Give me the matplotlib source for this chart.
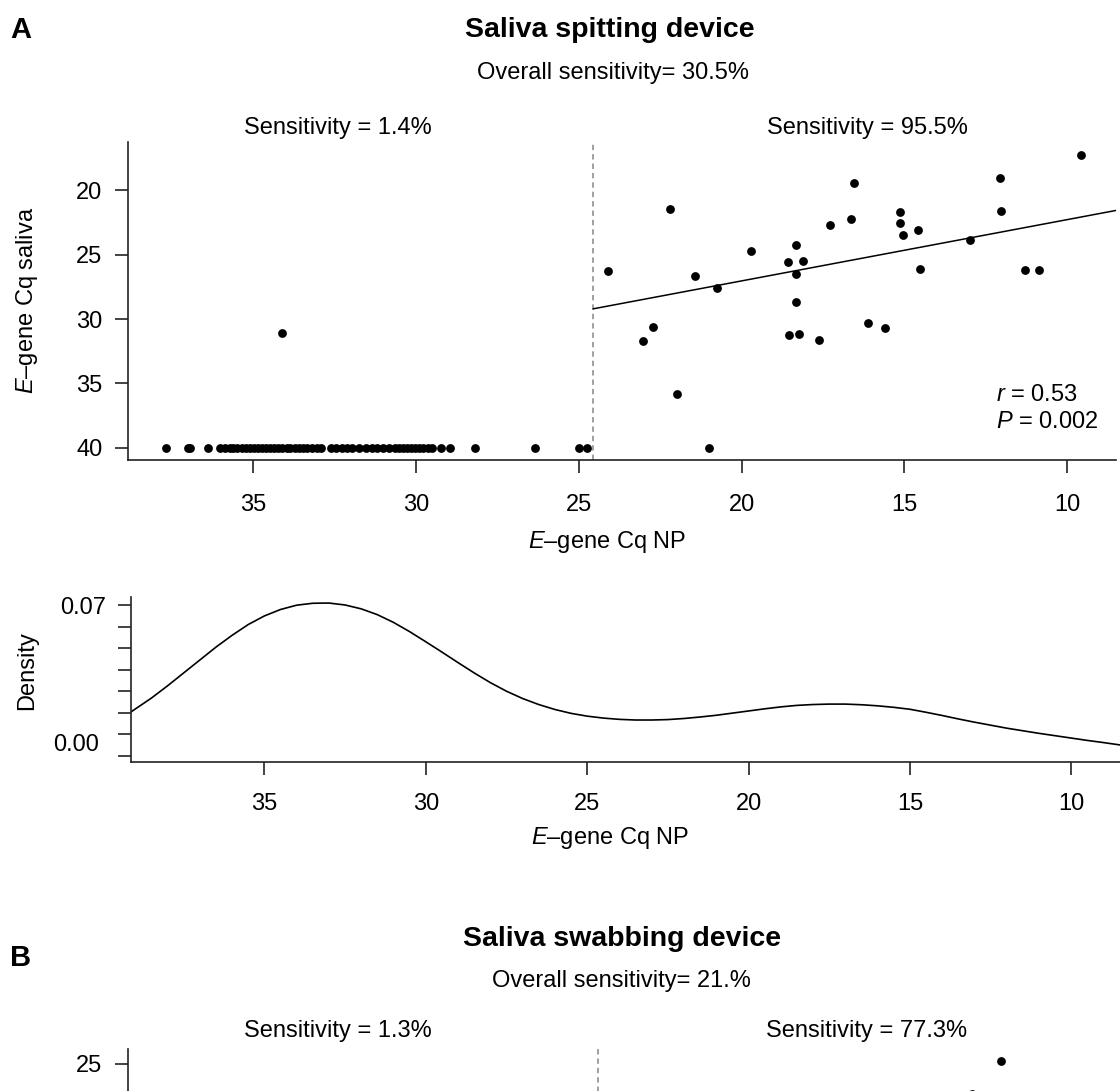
import matplotlib.pyplot as plt
from matplotlib import rcParams

rcParams.update({
    'font.family': ['Liberation Sans', 'DejaVu Sans'],
    'mathtext.fontset': 'custom',
    'mathtext.rm': 'Liberation Sans',
    'mathtext.it': 'Liberation Sans:italic',
})

# ---- data: panel A (saliva spitting device) ----
# NP Cq of samples not detected in saliva (plotted at Cq 40)
np_undetected = [37.68, 37.00, 36.93, 36.38,
                 36.00, 35.85, 35.72, 35.60, 35.48, 35.35, 35.22, 35.10, 34.98,
                 34.85, 34.72, 34.60, 34.47, 34.35,
                 34.22, 34.10, 33.97, 33.85, 33.72, 33.60, 33.47, 33.35, 33.20,
                 33.05, 32.92,
                 32.62, 32.45, 32.28, 32.10, 31.95, 31.76,
                 31.52, 31.35, 31.18, 31.00, 30.83,
                 30.65, 30.52, 30.40, 30.28, 30.15, 30.02, 29.90, 29.77, 29.64, 29.50,
                 29.22, 28.95, 28.18, 26.33, 25.00, 24.75, 21.01]
saliva_undetected = [40.0] * len(np_undetected)

# detected pairs (NP Cq, saliva Cq)
np_detected = [34.10, 24.10, 22.21, 21.43, 20.75, 19.70, 18.57, 18.34, 18.10,
               18.34, 18.34, 17.29, 16.63, 16.55, 15.14, 15.13, 15.03, 14.57,
               12.98, 14.53, 12.05, 12.03, 11.30, 10.85, 9.59, 22.73, 23.01,
               18.55, 18.23, 17.63, 16.13, 15.58, 21.99]
saliva_detected = [31.08, 26.27, 21.48, 26.68, 27.59, 24.71, 25.57, 24.27, 25.51,
                   26.47, 28.70, 22.72, 22.20, 19.43, 21.68, 22.51, 23.47, 23.08,
                   23.88, 26.13, 19.01, 21.58, 26.19, 26.23, 17.23, 30.61, 31.70,
                   31.26, 31.16, 31.65, 30.30, 30.66, 35.84]

cutoff = 24.55
fit_slope = 0.476
fit_intercept = 17.52

# density of NP Cq values
dens_x = [39.12, 38.5, 38.0, 37.5, 37.0, 36.5, 36.0, 35.5, 35.0, 34.5, 34.0,
          33.5, 33.0, 32.5, 32.0, 31.5, 31.0, 30.5, 30.0, 29.5, 29.0, 28.5,
          28.0, 27.5, 27.0, 26.5, 26.0, 25.5, 25.0, 24.5, 24.0, 23.5, 23.0,
          22.5, 22.0, 21.5, 21.0, 20.5, 20.0, 19.5, 19.0, 18.5, 18.0, 17.5,
          17.0, 16.5, 16.0, 15.5, 15.0, 14.5, 14.0, 13.5, 13.0, 12.5, 12.0,
          11.5, 11.0, 10.5, 10.0, 9.5, 9.0, 8.49]
dens_y = [0.0205, 0.0268, 0.0325, 0.0385, 0.0445, 0.0505, 0.0560, 0.0610,
          0.0650, 0.0680, 0.0700, 0.0709, 0.0710, 0.0701, 0.0683, 0.0656,
          0.0620, 0.0577, 0.0530, 0.0482, 0.0433, 0.0385, 0.0340, 0.0300,
          0.0266, 0.0238, 0.0215, 0.0197, 0.0184, 0.0175, 0.0169, 0.0166,
          0.0166, 0.0168, 0.0173, 0.0180, 0.0188, 0.0198, 0.0208, 0.0218,
          0.0227, 0.0234, 0.0238, 0.0240, 0.0240, 0.0237, 0.0232, 0.0225,
          0.0216, 0.0202, 0.0187, 0.0171, 0.0156, 0.0142, 0.0128, 0.0116,
          0.0104, 0.0093, 0.0082, 0.0071, 0.0061, 0.0050]

# ---- data: panel B (saliva swabbing device), only top edge visible ----
np_b = [12.03, 12.91]
saliva_b = [24.74, 27.3]
cutoff_b = 24.42

W, H = 1120, 1091
FS = 17


def rect(l, t, r, b):
    return [l / W, 1 - b / H, (r - l) / W, (b - t) / H]


def ftext(x, y, s, **kw):
    fig.text(x / W, 1 - y / H, s, ha=kw.pop('ha', 'center'),
             va=kw.pop('va', 'center'), fontsize=kw.pop('fontsize', FS), **kw)


def style(ax, pad=9):
    for side in ('top', 'right'):
        ax.spines[side].set_visible(False)
    for side in ('left', 'bottom'):
        ax.spines[side].set_linewidth(1.2)
        ax.spines[side].set_color('#222222')
    ax.tick_params(direction='out', length=9.5, width=1.2, color='#222222',
                   labelsize=FS, pad=9)
    ax.tick_params(axis='x', pad=pad)


fig = plt.figure(figsize=(W / 100, H / 100), dpi=100)

# ---- scatter A ----
axA = fig.add_axes(rect(128.3, 142, 1116, 460))
axA.scatter(np_undetected, saliva_undetected, s=40, c='black', lw=0, zorder=3,
            clip_on=False)
axA.scatter(np_detected, saliva_detected, s=40, c='black', lw=0, zorder=3,
            clip_on=False)
axA.axvline(cutoff, color='#999999', lw=1.3, ls=(0, (3, 2.2)))
xs = [cutoff, 8.5]
axA.plot(xs, [fit_intercept + fit_slope * v for v in xs], color='black', lw=1.1)
axA.set_xlim(38.83, 8.5)
axA.set_ylim(40.95, 16.25)
axA.set_xticks([35, 30, 25, 20, 15, 10])
axA.set_yticks([20, 25, 30, 35, 40])
style(axA, pad=15)
axA.text(995.7 / W, 1 - 395 / H, r'$\mathit{r}$ = 0.53', transform=fig.transFigure,
         fontsize=FS, va='center', ha='left')
axA.text(995.7 / W, 1 - 422 / H, r'$\mathit{P}$ = 0.002', transform=fig.transFigure,
         fontsize=FS, va='center', ha='left')

# ---- density ----
axD = fig.add_axes(rect(131.4, 596.7, 1120, 762.3))
axD.plot(dens_x, dens_y, color='black', lw=1.2)
axD.set_xlim(39.12, 8.49)
axD.set_ylim(-0.00307, 0.07395)
axD.set_xticks([35, 30, 25, 20, 15, 10])
axD.set_yticks([0.00, 0.01, 0.02, 0.03, 0.04, 0.05, 0.06, 0.07])
axD.set_yticklabels([''] * 7 + ['0.07'])
style(axD, pad=12.5)

# ---- scatter B (cut off) ----
axB = fig.add_axes(rect(128.3, 1048.5, 1116, 1366.5))
axB.scatter(np_b, saliva_b, s=40, c='black', lw=0, zorder=3)
axB.axvline(cutoff_b, color='#999999', lw=1.3, ls=(0, (3, 2.2)))
axB.set_xlim(38.83, 8.5)
axB.set_ylim(48.5, 23.8)
axB.set_yticks([25])
axB.set_xticks([])
style(axB)

# ---- texts ----
ftext(21, 30, 'A', fontsize=21, fontweight='bold')
ftext(610, 30, 'Saliva spitting device', fontsize=20.5, fontweight='bold')
ftext(613, 73, 'Overall sensitivity= 30.5%')
ftext(338, 128, 'Sensitivity = 1.4%')
ftext(867, 128, 'Sensitivity = 95.5%')
ftext(27, 300, r'$\mathit{E}$–gene Cq saliva', rotation=90)
ftext(607, 542, r'$\mathit{E}$–gene Cq NP')
ftext(27, 671, 'Density', rotation=90)
ftext(99, 745, '0.00', ha='right')
ftext(610, 838, r'$\mathit{E}$–gene Cq NP')

ftext(21, 958, 'B', fontsize=21, fontweight='bold')
ftext(622, 939, 'Saliva swabbing device', fontsize=20.5, fontweight='bold')
ftext(621, 981, 'Overall sensitivity= 21.%')
ftext(338, 1031, 'Sensitivity = 1.3%')
ftext(867, 1031, 'Sensitivity = 77.3%')

fig.savefig('out.png', dpi=100)
